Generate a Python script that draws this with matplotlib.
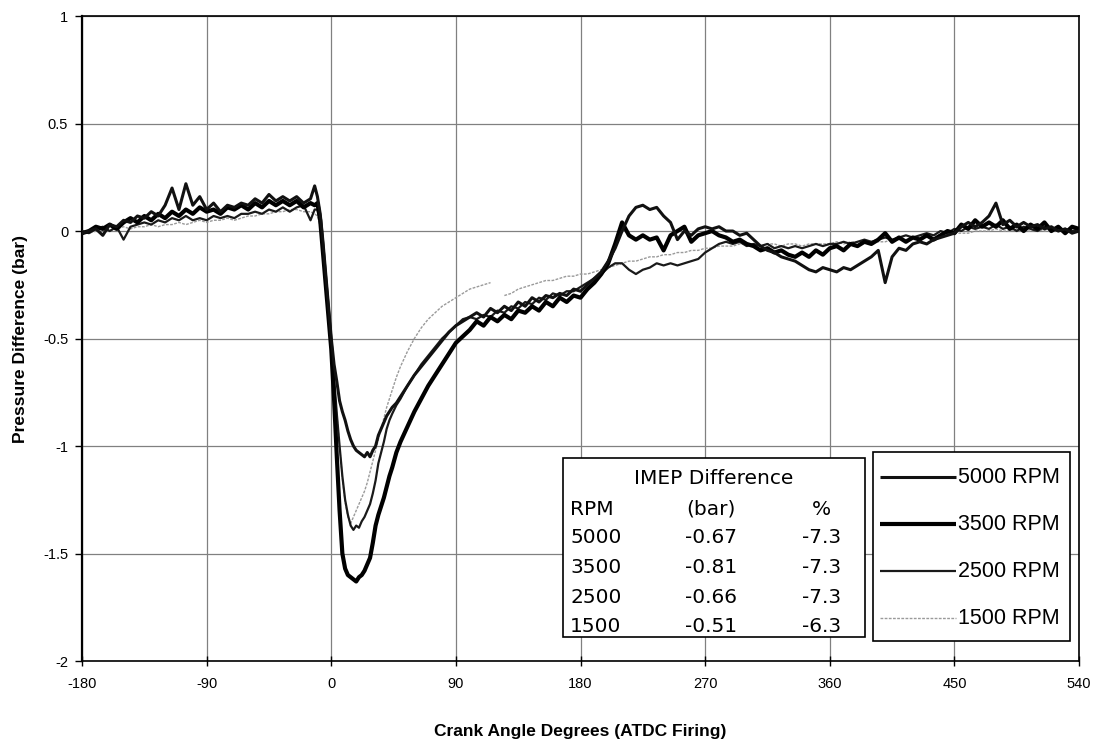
import numpy as np
import matplotlib
matplotlib.use("Agg")
import matplotlib.pyplot as plt
from matplotlib.patches import Rectangle

plt.rcParams["font.family"] = ["Liberation Sans", "DejaVu Sans"]
plt.rcParams["axes.unicode_minus"] = False

# crank angle samples (deg ATDC firing)
angle = [
    -180, -175, -170, -165, -160, -155, -150, -145, -140, -135, -130, -125,
    -120, -115, -110, -105, -100, -95, -90, -85, -80, -75, -70, -65, -60,
    -55, -50, -45, -40, -35, -30, -25, -20, -15,
    -12, -10, -8, -6, -4, -2, 0, 2, 4, 6, 8, 10, 12, 14, 16, 18, 20, 22, 24,
    26, 28, 30, 32, 34, 36, 38, 40, 42, 44,
    47, 50, 55, 60, 65, 70, 75, 80, 85, 90, 95,
    100, 105, 110, 115, 120, 125, 130, 135, 140, 145, 150, 155, 160, 165,
    170, 175, 180, 185, 190, 195,
    200, 205, 210, 215, 220, 225, 230, 235, 240, 245, 250, 255, 260, 265,
    270, 275, 280, 285, 290, 295,
    300, 305, 310, 315, 320, 325, 330, 335, 340, 345, 350, 355, 360, 365,
    370, 375, 380, 385, 390, 395,
    400, 405, 410, 415, 420, 425, 430, 435, 440, 445, 450, 455, 460, 465,
    470, 475, 480, 485, 490, 495,
    500, 505, 510, 515, 520, 525, 530, 535, 540,
]

# pressure difference (bar)
dp_5000 = [
    -0.01, 0.0, 0.01, -0.02, 0.03, 0.02, 0.05, 0.04, 0.07, 0.06, 0.09, 0.07,
    0.12, 0.2, 0.1, 0.22, 0.12, 0.16, 0.1, 0.13, 0.09, 0.12, 0.11, 0.13, 0.12,
    0.15, 0.13, 0.17, 0.14, 0.16, 0.14, 0.16, 0.13, 0.15,
    0.21, 0.16, 0.08, -0.05, -0.2, -0.35, -0.5, -0.62, -0.7, -0.79, -0.84,
    -0.88, -0.93, -0.97, -1.0, -1.02, -1.03, -1.04, -1.05, -1.03, -1.05,
    -1.02, -1.0, -0.95, -0.92, -0.89, -0.86, -0.84, -0.82,
    -0.8, -0.77, -0.72, -0.67, -0.63, -0.59, -0.55, -0.51, -0.47, -0.44, -0.42,
    -0.40, -0.38, -0.40, -0.36, -0.38, -0.35, -0.37, -0.33, -0.35, -0.31,
    -0.33, -0.3, -0.31, -0.29, -0.3, -0.27, -0.28, -0.25, -0.22, -0.19,
    -0.14, -0.08, 0.0, 0.07, 0.11, 0.12, 0.1, 0.11, 0.07, 0.04, -0.04, 0.0,
    -0.02, 0.01, 0.02, 0.01, 0.02, 0.0, 0.0, -0.02,
    -0.01, -0.04, -0.07, -0.09, -0.1, -0.12, -0.13, -0.14, -0.16, -0.18,
    -0.19, -0.17, -0.18, -0.19, -0.17, -0.18, -0.16, -0.14, -0.12, -0.09,
    -0.24, -0.12, -0.08, -0.09, -0.06, -0.05, -0.06, -0.04, -0.03, -0.02,
    -0.01, 0.02, 0.04, 0.02, 0.04, 0.07, 0.13, 0.03, 0.05, 0.02,
    0.04, 0.02, 0.03, 0.01, 0.02, 0.0, 0.01, -0.01, 0.0,
]

dp_3500 = [
    -0.01, 0.0, 0.02, 0.01, 0.03, 0.01, 0.04, 0.06, 0.04, 0.07, 0.05, 0.08,
    0.06, 0.09, 0.07, 0.1, 0.08, 0.11, 0.09, 0.1, 0.08, 0.11, 0.1, 0.12, 0.1,
    0.13, 0.11, 0.14, 0.12, 0.14, 0.12, 0.14, 0.11, 0.13,
    0.12, 0.13, 0.05, -0.1, -0.25, -0.4, -0.55, -0.78, -1.05, -1.3, -1.5,
    -1.57, -1.6, -1.61, -1.62, -1.63, -1.61, -1.6, -1.58, -1.55, -1.52,
    -1.45, -1.37, -1.32, -1.28, -1.24, -1.19, -1.14, -1.1,
    -1.03, -0.98, -0.91, -0.84, -0.78, -0.72, -0.67, -0.62, -0.57, -0.52,
    -0.49,
    -0.46, -0.42, -0.44, -0.40, -0.42, -0.39, -0.41, -0.37, -0.38, -0.35,
    -0.37, -0.33, -0.35, -0.31, -0.33, -0.3, -0.31, -0.27, -0.24, -0.2,
    -0.15, -0.06, 0.04, -0.02, -0.04, -0.02, -0.04, -0.03, -0.09, -0.02,
    0.0, 0.02, -0.05, -0.02, -0.01, 0.0, -0.02, -0.03, -0.05, -0.04,
    -0.06, -0.07, -0.09, -0.08, -0.1, -0.09, -0.11, -0.12, -0.1, -0.12,
    -0.09, -0.11, -0.08, -0.07, -0.09, -0.06, -0.07, -0.05, -0.06, -0.04,
    -0.01, -0.05, -0.03, -0.05, -0.03, -0.04, -0.02, -0.04, -0.02, 0.0,
    -0.01, 0.03, 0.01, 0.05, 0.02, 0.04, 0.02, 0.05, 0.01, 0.03,
    0.0, 0.03, 0.01, 0.04, 0.0, 0.02, -0.01, 0.02, 0.01,
]

dp_2500 = [
    0.0, -0.01, 0.01, 0.02, 0.0, 0.02, -0.04, 0.02, 0.03, 0.04, 0.03, 0.05,
    0.04, 0.06, 0.05, 0.07, 0.05, 0.06, 0.05, 0.07, 0.06, 0.07, 0.06, 0.08,
    0.08, 0.09, 0.08, 0.1, 0.09, 0.11, 0.09, 0.11, 0.12, 0.05,
    0.1, 0.1, 0.04, -0.08, -0.22, -0.37, -0.52, -0.68, -0.85, -1.0, -1.14,
    -1.25, -1.32, -1.37, -1.39, -1.37, -1.38, -1.35, -1.33, -1.3, -1.27,
    -1.22, -1.16, -1.08, -1.03, -0.98, -0.92, -0.88, -0.85,
    -0.81, -0.78, -0.72, -0.67, -0.62, -0.58, -0.54, -0.5, -0.47, -0.44,
    -0.41,
    -0.40, -0.41, -0.39, -0.40, -0.37, -0.38, -0.35, -0.36, -0.33, -0.34,
    -0.31, -0.32, -0.29, -0.3, -0.28, -0.28, -0.26, -0.24, -0.22, -0.2,
    -0.17, -0.15, -0.15, -0.18, -0.2, -0.18, -0.17, -0.15, -0.16, -0.15,
    -0.16, -0.15, -0.14, -0.13, -0.1, -0.08, -0.06, -0.05, -0.06, -0.05,
    -0.07, -0.06, -0.07, -0.06, -0.08, -0.07, -0.08, -0.07, -0.08, -0.07,
    -0.06, -0.07, -0.06, -0.06, -0.05, -0.06, -0.05, -0.04, -0.05, -0.04,
    -0.03, -0.04, -0.03, -0.02, -0.03, -0.02, -0.01, -0.02, 0.0, -0.01,
    0.01, 0.0, 0.02, 0.01, 0.02, 0.01, 0.03, 0.01, 0.02, 0.0,
    0.02, 0.01, 0.0, 0.02, 0.01, 0.0, 0.01, 0.0, 0.01,
]

dp_1500 = [
    0.0, -0.01, 0.0, 0.01, 0.0, 0.01, 0.02, 0.01, 0.02, 0.02, 0.03, 0.02,
    0.03, 0.03, 0.04, 0.03, 0.04, 0.05, 0.04, 0.05, 0.05, 0.06, 0.05, 0.06,
    0.07, 0.07, 0.08, 0.08, 0.09, 0.09, 0.1, 0.1, 0.09, 0.09,
    0.08, 0.07, 0.02, -0.1, -0.25, -0.4, -0.55, -0.7, -0.85, -1.0, -1.15,
    -1.26, -1.33, -1.36, -1.33, -1.3, -1.27, -1.24, -1.21, -1.17, -1.12,
    -1.07, -1.02, -0.97, -0.92, -0.87, -0.82, -0.78, -0.74,
    -0.68, -0.63, -0.56, -0.5, -0.45, -0.41, -0.38, -0.35, -0.33, -0.31,
    -0.29,
    -0.27, -0.26, -0.25, -0.24, np.nan, -0.3, -0.29, -0.27, -0.26, -0.25,
    -0.24, -0.23, -0.23, -0.22, -0.21, -0.21, -0.2, -0.2, -0.19, -0.18,
    -0.17, -0.16, -0.15, -0.14, -0.14, -0.13, -0.12, -0.12, -0.11, -0.11,
    -0.1, -0.1, -0.09, -0.09, -0.08, -0.08, -0.07, -0.07, -0.07, -0.06,
    -0.06, -0.06, -0.07, -0.06, -0.06, -0.07, -0.06, -0.06, -0.07, -0.06,
    -0.06, -0.06, -0.06, -0.05, -0.06, -0.05, -0.05, -0.05, -0.05, -0.05,
    -0.05, -0.04, -0.04, -0.04, -0.03, -0.03, -0.03, -0.02, -0.02, -0.02,
    -0.01, -0.01, -0.01, 0.0, 0.0, 0.0, 0.01, 0.0, 0.0, 0.01,
    0.0, 0.0, 0.01, 0.0, 0.0, 0.01, 0.0, 0.0, 0.0,
]

# IMEP difference table
imep_rpm = ["5000", "3500", "2500", "1500"]
imep_bar = [-0.67, -0.81, -0.66, -0.51]
imep_pct = [-7.3, -7.3, -7.3, -6.3]

series = [
    ("5000 RPM", dp_5000, dict(color="#111111", lw=2.2, ls="-")),
    ("3500 RPM", dp_3500, dict(color="#000000", lw=3.0, ls="-")),
    ("2500 RPM", dp_2500, dict(color="#1a1a1a", lw=1.6, ls="-")),
    ("1500 RPM", dp_1500, dict(color="#9a9a9a", lw=1.0, ls=(0, (2, 1)))),
]

fig = plt.figure(figsize=(11.1, 7.39), dpi=100)
ax = fig.add_axes([0.0739, 0.1055, 0.8982, 0.8728])

for label, vals, st in reversed(series):
    ax.plot(angle, vals, label=label, zorder=3, **st)

ax.set_xlim(-180, 540)
ax.set_ylim(-2, 1)
ax.set_xticks(np.arange(-180, 541, 90))
ax.set_yticks([-2, -1.5, -1, -0.5, 0, 0.5, 1])
ax.set_yticklabels(["-2", "-1.5", "-1", "-0.5", "0", "0.5", "1"])
ax.grid(True, color="#808080", lw=0.9, zorder=1)
ax.set_axisbelow(True)
ax.tick_params(axis="x", direction="inout", length=7, width=1,
               labelsize=10.5, pad=8)
ax.tick_params(axis="y", direction="out", length=5, width=1,
               labelsize=10.5, pad=5)
for s in ax.spines.values():
    s.set_color("black")
    s.set_linewidth(1.2)
ax.spines["left"].set_linewidth(1.6)

ax.set_xlabel("Crank Angle Degrees (ATDC Firing)", fontsize=12.5,
              fontweight="bold", va="center")
ax.set_ylabel("Pressure Difference (bar)", fontsize=12.5,
              fontweight="bold", va="center")
ax.xaxis.set_label_coords(0.5, -0.11)
ax.yaxis.set_label_coords(-0.062, 0.5)

# table box
tfont = dict(family="DejaVu Sans", fontsize=14.5, transform=ax.transAxes,
             zorder=6, va="center")
ax.add_patch(Rectangle((0.4825, 0.0372), 0.3028, 0.2775, transform=ax.transAxes,
                       facecolor="white", edgecolor="black", lw=1.2, zorder=5))
ax.text(0.634, 0.2837, "IMEP Difference", ha="center", **tfont)
row_y = [0.1922, 0.1457, 0.0992, 0.0543]
ax.text(0.4895, 0.2357, "RPM", ha="left", **tfont)
ax.text(0.631, 0.2357, "(bar)", ha="center", **tfont)
ax.text(0.742, 0.2357, "%", ha="center", **tfont)
for y, r, b, p in zip(row_y, imep_rpm, imep_bar, imep_pct):
    ax.text(0.4895, y, r, ha="left", **tfont)
    ax.text(0.631, y, f"{b:.2f}", ha="center", **tfont)
    ax.text(0.742, y, f"{p:.1f}", ha="center", **tfont)

# legend box
ax.add_patch(Rectangle((0.7934, 0.031), 0.1976, 0.293, transform=ax.transAxes,
                       facecolor="white", edgecolor="black", lw=1.2, zorder=5))
leg_y = [0.2853, 0.2124, 0.1395, 0.0667]
for y, (label, vals, st) in zip(leg_y, series):
    ax.plot([0.8004, 0.8766], [y, y], transform=ax.transAxes, zorder=6,
            solid_capstyle="butt", **st)
    ax.text(0.8786, y, label, transform=ax.transAxes, fontsize=15.5,
            va="center", ha="left", zorder=6)

fig.savefig("out.png", dpi=100)
